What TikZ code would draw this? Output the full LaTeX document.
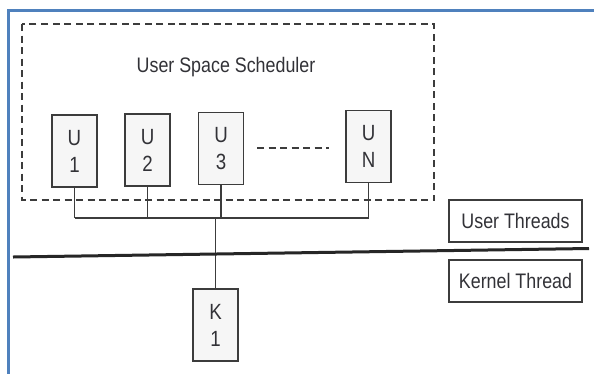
\documentclass[tikz,border=0pt]{standalone}
\usepackage{fontspec}
\setmainfont{Liberation Sans}[FakeStretch=0.85]
\definecolor{frameblue}{RGB}{79,129,189}
\definecolor{ink}{RGB}{60,60,60}
\definecolor{txt}{RGB}{50,50,55}
\definecolor{boxfill}{RGB}{246,246,246}
\begin{document}
\begin{tikzpicture}[x=1pt,y=-1pt,
  thr/.style={draw=ink,line width=1.1pt,fill=boxfill,minimum width=45pt,minimum height=72pt,
    inner sep=0pt,align=center,text=txt,font=\fontsize{22}{27}\selectfont},
  lbl/.style={draw=ink,line width=1.1pt,minimum width=133pt,minimum height=42pt,inner sep=0pt,
    text=txt,font=\fontsize{21}{24}\selectfont},
  wire/.style={draw=ink,line width=1.1pt},
  dsh/.style={draw=ink,line width=1.3pt,dash pattern=on 7pt off 4.5pt}]
\useasboundingbox (0,0) rectangle (594,373);
\clip (0,0) rectangle (594,373);
\fill[white] (0,0) rectangle (594,373);
% blue frame
\draw[frameblue,line width=3pt] (8,10) rectangle (620,400);
% dashed scheduler box
\draw[dsh] (22,24) rectangle (434,200);
\node[text=txt,font=\fontsize{21}{24}\selectfont,anchor=base] (title) at (226,72) {User Space Scheduler};
% user threads
\node[thr] (u1) at (74.5,151) {U\\1};
\node[thr] (u2) at (147.5,150) {U\\2};
\node[thr] (u3) at (221,148.5) {U\\3};
\node[thr] (un) at (368.5,146.5) {U\\N};
\coordinate (d1) at (257,148);
\coordinate (d2) at (329,148);
\draw[dsh] (d1) -- (d2);
% bus
\coordinate (busL) at (74.5,218);
\coordinate (busR) at (368.5,218);
\coordinate (busK) at (215.5,218);
\draw[wire] (busL) -- (busR);
\draw[wire] (u1.south) -- (busL);
\draw[wire] (u2.south) -- (u2.south |- busL);
\draw[wire] (u3.south) -- (u3.south |- busL);
\draw[wire] (un.south) -- (busR);
% kernel thread
\node[thr] (k1) at (215.5,325) {K\\1};
\draw[wire] (busK) -- (k1.north);
% separator
\coordinate (sepL) at (13,257);
\coordinate (sepR) at (589,248.5);
\draw[black!85,line width=3pt] (sepL) -- (sepR);
% labels
\node[lbl] (ut) at (515.5,221) {User Threads};
\node[lbl] (kt) at (515.5,281) {Kernel Thread};
\end{tikzpicture}
\end{document}
